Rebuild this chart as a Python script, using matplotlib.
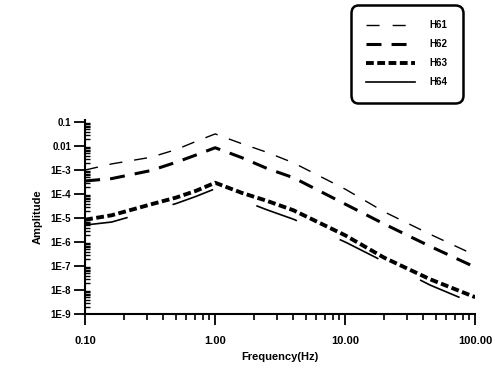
import numpy as np
import matplotlib.pyplot as plt
from matplotlib.lines import Line2D
from matplotlib.ticker import FixedLocator, LogLocator, NullFormatter

freq = [0.1, 0.16, 0.32, 0.5, 0.71, 1.0, 1.6, 2.5, 4.0, 10.0, 20.0, 45.0, 100.0]
h61 = [1.0e-3, 1.8e-3, 3.4e-3, 7.1e-3, 1.55e-2, 3.2e-2, 1.26e-2, 5.5e-3, 2.0e-3, 1.6e-4, 1.8e-5, 2.1e-6, 2.8e-7]
h62 = [3.5e-4, 4.4e-4, 9.5e-4, 2.1e-3, 4.2e-3, 8.5e-3, 3.3e-3, 1.17e-3, 4.8e-4, 3.8e-5, 5.6e-6, 6.6e-7, 8.9e-8]
h63 = [8.5e-6, 1.3e-5, 3.7e-5, 7.1e-5, 1.35e-4, 2.95e-4, 1.12e-4, 5.2e-5, 2.1e-5, 1.9e-6, 2.2e-7, 2.8e-8, 5.0e-9]
h64 = [5.1e-6, 6.8e-6, 2.0e-5, 4.0e-5, 7.9e-5, 1.66e-4, 5.6e-5, 2.2e-5, 8.9e-6, 1.0e-6, 1.5e-7, 1.6e-8, 2.6e-9]

xticks = [0.1, 1, 10, 100]
xlabels = ["0.10", "1.00", "10.00", "100.00"]
yticks = [1e-1, 1e-2, 1e-3, 1e-4, 1e-5, 1e-6, 1e-7, 1e-8, 1e-9]
ylabels = ["0.1", "0.01", "1E-3", "1E-4", "1E-5", "1E-6", "1E-7", "1E-8", "1E-9"]

plt.rcParams['font.family'] = ['Liberation Sans', 'DejaVu Sans']

fig = plt.figure(figsize=(4.95, 3.72), dpi=100)
ax = fig.add_axes([0.172, 0.156, 0.788, 0.521])

ax.plot(freq, h61, color="black", lw=1.0, linestyle=(0, (9.4, 8.6)))
ax.plot(freq, h62, color="black", lw=2.2, linestyle=(0, (4.9, 3.3)))
ax.plot(freq, h63, color="black", lw=2.8, linestyle=(0, (2.0, 0.9)))
# H64 is printed solid but shows up broken in the scan
ax.plot(freq, h64, color="black", lw=1.2, linestyle=(0, (26, 28)))

ax.set_xscale("log")
ax.set_yscale("log")
ax.set_xlim(0.1, 100)
ax.set_ylim(1e-9, 0.12)

ax.spines["top"].set_visible(False)
ax.spines["right"].set_visible(False)
ax.spines["left"].set_linewidth(1.5)
ax.spines["bottom"].set_linewidth(1.5)

ax.xaxis.set_major_locator(FixedLocator(xticks))
ax.set_xticklabels(xlabels)
ax.xaxis.set_minor_locator(LogLocator(base=10, subs=np.arange(2, 10)))
ax.xaxis.set_minor_formatter(NullFormatter())
ax.yaxis.set_major_locator(FixedLocator(yticks))
ax.set_yticklabels(ylabels)
ax.yaxis.set_minor_locator(LogLocator(base=10, subs=np.arange(2, 10)))
ax.yaxis.set_minor_formatter(NullFormatter())

ax.tick_params(axis="x", which="major", direction="out", length=8, width=1.3, labelsize=8, pad=8)
ax.tick_params(axis="x", which="minor", direction="out", length=4.5, width=1.2)
ax.tick_params(axis="y", which="major", direction="out", length=8, width=1.3, labelsize=7, pad=2)
ax.tick_params(axis="y", which="minor", direction="in", length=3.5, width=1.0)
for lab in ax.get_xticklabels() + ax.get_yticklabels():
    lab.set_fontweight("bold")

ax.set_xlabel("Frequency(Hz)", fontsize=8, fontweight="bold", labelpad=4)
ax.set_ylabel("Amplitude", fontsize=8, fontweight="bold", labelpad=6)

handles = [
    Line2D([], [], color="black", lw=1.0, linestyle=(0, (9.4, 9.4))),
    Line2D([], [], color="black", lw=2.2, linestyle=(0, (4.9, 3.3))),
    Line2D([], [], color="black", lw=2.8, linestyle=(0, (2.0, 0.9))),
    Line2D([], [], color="black", lw=1.2),
]
leg = fig.legend(handles, ["H61", "H62", "H63", "H64"], loc="upper right",
                 bbox_to_anchor=(0.935, 0.987), fancybox=True, framealpha=1,
                 edgecolor="black", handlelength=5.0, labelspacing=0.92,
                 borderpad=1.6, handletextpad=1.5, borderaxespad=0,
                 prop={"size": 7, "weight": "bold"})
leg.get_frame().set_linewidth(1.8)
leg.get_frame().set_boxstyle("round", pad=0, rounding_size=0.8)

fig.savefig("out.png", dpi=100)
